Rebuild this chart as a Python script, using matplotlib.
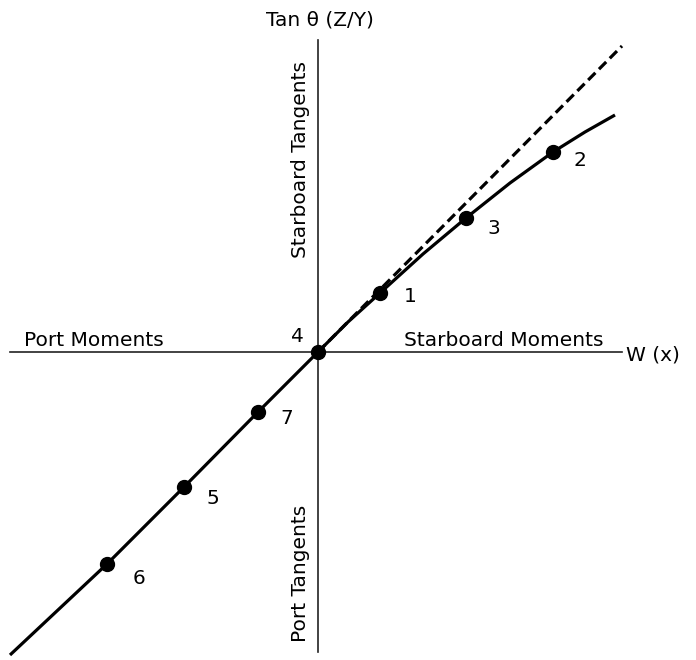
import matplotlib.pyplot as plt

# solid curve (W vs tan theta), origin at axes crossing
curve_x = [-308, -211, -134, -60, 0, 30, 62, 105, 148, 192, 235, 267, 297]
curve_y = [-303, -212, -135, -60, 0, 30, 59, 98, 134, 169, 200, 220, 237]

# dashed initial tangent
dash_x = [0, 304]
dash_y = [0, 306]

# marked points and their labels
pt_x = [62, 235, 148, 0, -134, -211, -60]
pt_y = [59, 200, 134, 0, -135, -212, -60]
pt_lbl = ['1', '2', '3', '4', '5', '6', '7']
lbl_dx = [30, 27, 28, -21, 29, 32, 29]
lbl_dy = [-4, -8, -10, 15, -12, -14, -7]

fig = plt.figure(figsize=(6.96, 6.60), dpi=100)
ax = fig.add_axes([0, 0, 1, 1])
ax.set_xlim(-318, 378)
ax.set_ylim(-308, 352)
ax.axis('off')

# axes lines
ax.plot([-308, 304], [0, 0], color='#222222', lw=1.2)
ax.plot([0, 0], [-300, 312], color='#222222', lw=1.2)

ax.plot(dash_x, dash_y, color='black', lw=2.3, ls=(0, (3.2, 1.6)))
ax.plot(curve_x, curve_y, color='black', lw=2.3, solid_capstyle='butt')
ax.plot(pt_x, pt_y, 'o', color='black', ms=10)

fs = 14.5
for x, y, t, dx, dy in zip(pt_x, pt_y, pt_lbl, lbl_dx, lbl_dy):
    ax.text(x + dx, y + dy, t, fontsize=fs, ha='center', va='center')

ax.text(2, 332, 'Tan θ (Z/Y)', fontsize=fs, ha='center', va='center')
ax.text(335, -3, 'W (x)', fontsize=fs, ha='center', va='center')
ax.text(-224, 12, 'Port Moments', fontsize=fs, ha='center', va='center')
ax.text(186, 12, 'Starboard Moments', fontsize=fs, ha='center', va='center')
ax.text(-18, 193, 'Starboard Tangents', fontsize=fs, ha='center', va='center',
        rotation=90)
ax.text(-18, -221, 'Port Tangents', fontsize=fs, ha='center', va='center',
        rotation=90)

fig.savefig('out.png', dpi=100, facecolor='white')
